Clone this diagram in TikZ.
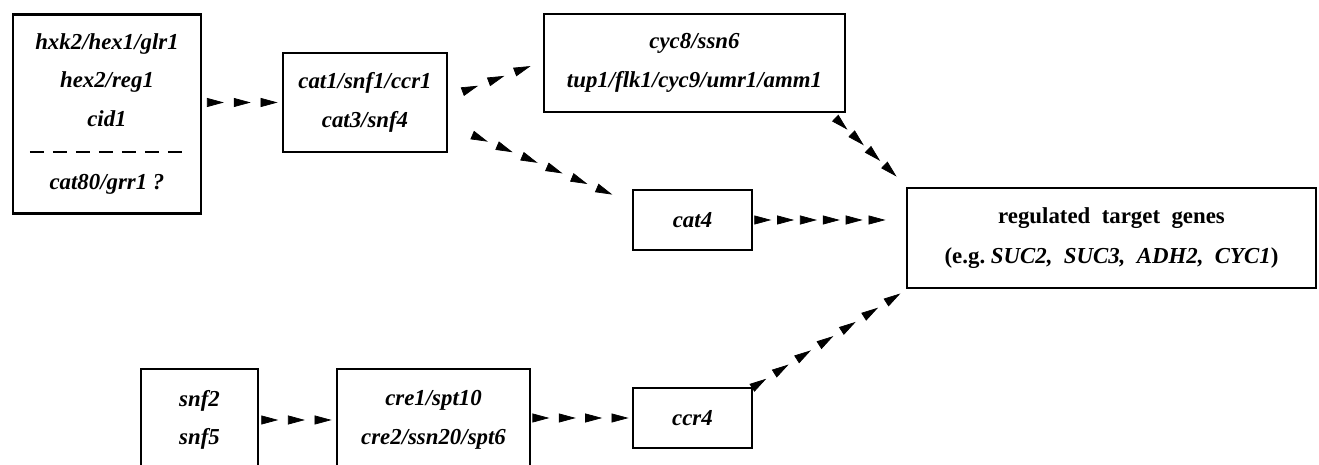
\documentclass[tikz,border=0pt]{standalone}
\usepackage{fontspec}
\setmainfont{Liberation Serif}
\usetikzlibrary{arrows.meta,calc,decorations.markings}

\newcommand{\genefont}{\fontsize{13}{22}\selectfont\bfseries\itshape}

\tikzset{
  genebox/.style={draw, line width=1.4pt, align=center, inner sep=0pt, font=\genefont},
  headline/.style={decorate, decoration={markings,
      mark=between positions 1/#1-0.002 and 1 step 1/#1 with {\arrow{>}}}},
  >={Triangle[length=0.34cm,width=0.18cm]}
}

\begin{document}
\begin{tikzpicture}[x=0.02cm, y=-0.02cm]
  \useasboundingbox (0,0) rectangle (1319,465);
  % upper row
  \node[genebox, minimum width=3.76cm, minimum height=3.98cm] (hxk) at (107,114)
    {hxk2/hex1/glr1\\hex2/reg1\\cid1\\[0.5cm]cat80/grr1 ?};
  \draw[line width=1.2pt, dash pattern=on 0.28cm off 0.18cm]
    ($(hxk.north west)+(18,138.5)$) -- ($(hxk.north east)+(-19,138.5)$);
  \node[genebox, minimum width=3.28cm, minimum height=1.98cm] (snf1) at (365,102.5)
    {cat1/snf1/ccr1\\cat3/snf4};
  \node[genebox, minimum width=6.02cm, minimum height=1.96cm] (ssn6) at (694.5,63)
    {cyc8/ssn6\\tup1/flk1/cyc9/umr1/amm1};
  \node[genebox, minimum width=2.38cm, minimum height=1.2cm] (cat4) at (692.5,220) {cat4};
  \node[genebox, minimum width=8.18cm, minimum height=2cm,
    font=\fontsize{13}{23}\selectfont\bfseries] (target) at (1111.5,238)
    {regulated~~target~~genes\\(e.g.~\textit{SUC2,~~SUC3,~~ADH2,~~CYC1})};
  % lower row
  \node[genebox, minimum width=2.34cm, minimum height=2.04cm] (snf2) at (199.5,420) {snf2\\snf5};
  \node[genebox, minimum width=3.86cm, minimum height=2.04cm] (spt6) at (433.5,420)
    {cre1/spt10\\cre2/ssn20/spt6};
  \node[genebox, minimum width=2.38cm, minimum height=1.2cm] (ccr4) at (692.5,418) {ccr4};

  % arrows
  \path[headline=3] ($(hxk.east |- snf1.west)+(-5,0)$) -- ($(snf1.west)+(-4,0)$);
  \path[headline=3] ($(snf1.east)+(4,-7)$) -- ($(ssn6.west)+(-12,3)$);
  \path[headline=6] ($(snf1.south east)+(15,-22)$) -- ($(cat4.north west)+(-19,6)$);
  \path[headline=4] ($(ssn6.south east)+(-15,1)$) -- ($(target.north west)+(-9,-10)$);
  \path[headline=6] ($(cat4.east)+(-4.5,0)$) -- ($(cat4.east -| target.west)+(-20,0)$);
  \path[headline=7] ($(ccr4.north east)+(-9,6)$) -- ($(target.south west)+(-5,4)$);
  \path[headline=3] ($(snf2.east)+(-7.5,0)$) -- ($(spt6.west)+(-4,0)$);
  \path[headline=4] ($(spt6.east |- ccr4.west)+(-8,0)$) -- ($(ccr4.west)+(-3,0)$);
\end{tikzpicture}
\end{document}
